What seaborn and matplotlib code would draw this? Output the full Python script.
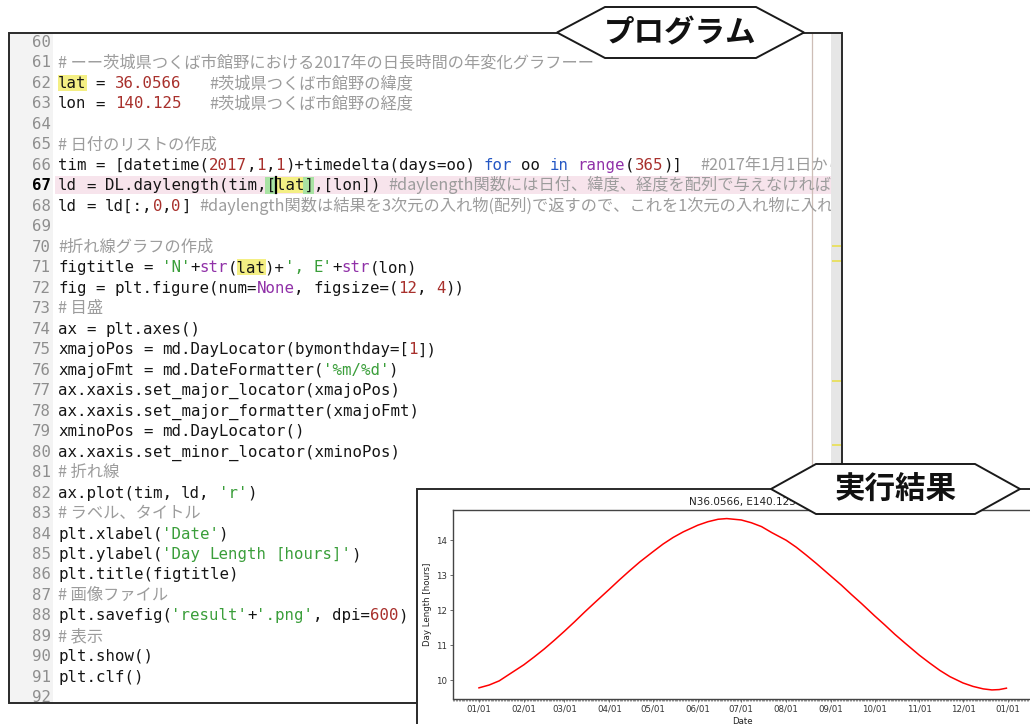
import re
import matplotlib
matplotlib.use("Agg")
import matplotlib.pyplot as plt
import matplotlib.dates as md
from matplotlib.patches import Rectangle, Polygon
import pandas as pd
import seaborn as sns

# 日長時間
dates = ["2017-01-01", "2017-01-08", "2017-01-15", "2017-01-22",
         "2017-02-01", "2017-02-08", "2017-02-15", "2017-02-22",
         "2017-03-01", "2017-03-08", "2017-03-15", "2017-03-22",
         "2017-04-01", "2017-04-08", "2017-04-15", "2017-04-22",
         "2017-05-01", "2017-05-08", "2017-05-15", "2017-05-22",
         "2017-06-01", "2017-06-08", "2017-06-15", "2017-06-21",
         "2017-07-01", "2017-07-08", "2017-07-15", "2017-07-22",
         "2017-08-01", "2017-08-08", "2017-08-15", "2017-08-22",
         "2017-09-01", "2017-09-08", "2017-09-15", "2017-09-22",
         "2017-10-01", "2017-10-08", "2017-10-15", "2017-10-22",
         "2017-11-01", "2017-11-08", "2017-11-15", "2017-11-22",
         "2017-12-01", "2017-12-08", "2017-12-15", "2017-12-21",
         "2017-12-26", "2017-12-31"]
day_length = [9.78, 9.86, 9.98, 10.17,
              10.44, 10.66, 10.89, 11.14,
              11.40, 11.67, 11.95, 12.22,
              12.60, 12.87, 13.13, 13.38,
              13.67, 13.89, 14.08, 14.24,
              14.43, 14.53, 14.60, 14.62,
              14.58, 14.50, 14.39, 14.22,
              14.00, 13.80, 13.57, 13.33,
              12.97, 12.72, 12.45, 12.19,
              11.84, 11.58, 11.31, 11.06,
              10.71, 10.49, 10.28, 10.10,
              9.92, 9.82, 9.75, 9.72,
              9.73, 9.77]

chart_title = "N36.0566, E140.125"
x_label = "Date"
y_label = "Day Length [hours]"

# エディタに表示されているコード (60行目から)
first_no = 60
code_lines = [
    "",
    "# ーー茨城県つくば市館野における2017年の日長時間の年変化グラフーー",
    "lat = 36.0566   #茨城県つくば市館野の緯度",
    "lon = 140.125   #茨城県つくば市館野の経度",
    "",
    "# 日付のリストの作成",
    "tim = [datetime(2017,1,1)+timedelta(days=oo) for oo in range(365)]  #2017年1月1日から365日分の日付",
    "ld = DL.daylength(tim,[lat],[lon]) #daylength関数には日付、緯度、経度を配列で与えなければならない",
    "ld = ld[:,0,0] #daylength関数は結果を3次元の入れ物(配列)で返すので、これを1次元の入れ物に入れ直す",
    "",
    "#折れ線グラフの作成",
    "figtitle = 'N'+str(lat)+', E'+str(lon)",
    "fig = plt.figure(num=None, figsize=(12, 4))",
    "# 目盛",
    "ax = plt.axes()",
    "xmajoPos = md.DayLocator(bymonthday=[1])",
    "xmajoFmt = md.DateFormatter('%m/%d')",
    "ax.xaxis.set_major_locator(xmajoPos)",
    "ax.xaxis.set_major_formatter(xmajoFmt)",
    "xminoPos = md.DayLocator()",
    "ax.xaxis.set_minor_locator(xminoPos)",
    "# 折れ線",
    "ax.plot(tim, ld, 'r')",
    "# ラベル、タイトル",
    "plt.xlabel('Date')",
    "plt.ylabel('Day Length [hours]')",
    "plt.title(figtitle)",
    "# 画像ファイル",
    "plt.savefig('result'+'.png', dpi=600)",
    "# 表示",
    "plt.show()",
    "plt.clf()",
    "",
]
current_line = 67

W, H = 1030, 724
CHAR_W = 9.45
X0 = 58
Y0 = 47.0
DY = 20.48
MONO = "DejaVu Sans Mono"
JP = ["Noto Sans CJK JP", "DejaVu Sans"]

colors = {"id": "#151515", "cm": "#9c9c9c", "st": "#3a9e3a", "nu": "#a8302c",
          "kw": "#2457c4", "bi": "#9031a8"}
token_re = re.compile(r"(?P<cm>#.*$)|(?P<st>'[^']*')|(?P<nu>\b\d+(?:\.\d+)?\b)"
                      r"|(?P<kw>\b(?:for|in)\b)|(?P<bi>\b(?:range|str|None)\b)")

fig = plt.figure(figsize=(W / 100, H / 100), dpi=100)
fig.patch.set_facecolor("white")

bg = fig.add_axes([0, 0, 1, 1])
bg.set_xlim(0, W)
bg.set_ylim(H, 0)
bg.axis("off")

clip = Rectangle((9, 33), 822, 669, transform=bg.transData)


def put(x, y, s, color, **kw):
    t = bg.text(x, y, s, color=color, va="baseline", ha="left", zorder=3,
                clip_on=True, **kw)
    t.set_clip_path(clip)
    return t


def put_code(s, col, y, color):
    for m in re.finditer(r"\S+", s):
        put(X0 + (col + m.start()) * CHAR_W, y, m.group(), color,
            family=MONO, fontsize=11.3)


# エディタ枠など
bg.add_patch(Rectangle((9, 33), 44, 669, fc="#f3f3f3", ec="none", zorder=1))
yc67 = Y0 + (current_line - first_no) * DY - 5
bg.add_patch(Rectangle((55, yc67 - 9), 776, 18, fc="#f7e4ec", ec="none", zorder=1))
bg.plot([812, 812], [33, 702], color="#cdbdb6", lw=0.9, zorder=2)
bg.add_patch(Rectangle((831, 33), 11, 669, fc="#e6e6e6", ec="none", zorder=2))
for ym in [246, 261, 381, 445]:
    bg.add_patch(Rectangle((832, ym - 1), 9, 2.2, fc="#e8e06a", ec="none", zorder=2))
bg.add_patch(Rectangle((8.5, 32.5), 833.5, 670, fc="none", ec="#2a2a2a", lw=1.4, zorder=4))

for i, line in enumerate(code_lines):
    no = first_no + i
    y = Y0 + i * DY
    yc = y - 5
    put(51, y, str(no), "#000000" if no == current_line else "#8e8e8e",
        family=MONO, fontsize=11.3,
        fontweight="bold" if no == current_line else "normal").set_ha("right")
    for m in re.finditer(r"\blat\b", line.split("#")[0]):
        bg.add_patch(Rectangle((X0 + m.start() * CHAR_W - 0.5, yc - 8), 3 * CHAR_W + 1, 16,
                               fc="#f4ef84", ec="none", zorder=2))
    if no == current_line:
        for c in [22, 26]:
            bg.add_patch(Rectangle((X0 + c * CHAR_W - 0.5, yc - 8.5), CHAR_W + 1, 17,
                                   fc="#a9e3a3", ec="none", zorder=2))
        bg.plot([X0 + 23 * CHAR_W + 0.5] * 2, [yc - 8, yc + 8], color="black", lw=1.6, zorder=5)
    pos = 0
    for m in token_re.finditer(line):
        if m.start() > pos:
            put_code(line[pos:m.start()], pos, y, colors["id"])
        kind = m.lastgroup
        if kind == "cm":
            put(X0 + m.start() * CHAR_W, y, m.group(), colors["cm"], family=JP, fontsize=11.7)
        else:
            put_code(m.group(), m.start(), y, colors[kind])
        pos = m.end()
    if pos < len(line):
        put_code(line[pos:], pos, y, colors["id"])

# 実行結果のパネル
bg.add_patch(Rectangle((417, 489), 640, 260, fc="white", ec="#2a2a2a", lw=1.4, zorder=10))

df = pd.DataFrame({"date": pd.to_datetime(dates), "day_length": day_length})
s = 0.624
ax = fig.add_axes([452.6 / W, 1 - 698.5 / H, 580.2 / W, 188.5 / H])
sns.lineplot(data=df, x="date", y="day_length", color="red", linewidth=1.1, ax=ax)
ax.xaxis.set_major_locator(md.DayLocator(bymonthday=[1]))
ax.xaxis.set_major_formatter(md.DateFormatter("%m/%d"))
ax.xaxis.set_minor_locator(md.DayLocator())
ax.tick_params(which="major", length=3.5 * s, width=0.8 * s, pad=3.5 * s,
               labelsize=10 * s, colors="#333333")
ax.tick_params(which="minor", length=2 * s, width=0.6 * s, colors="#333333")
ax.set_title(chart_title, fontsize=12 * s, pad=6 * s, color="#222222")
ax.set_xlabel(x_label, fontsize=10 * s, labelpad=4 * s, color="#222222")
ax.set_ylabel(y_label, fontsize=10 * s, labelpad=4 * s, color="#222222")
for sp in ax.spines.values():
    sp.set_color("#444444")
    sp.set_linewidth(1.0)

# 見出しラベル
top = fig.add_axes([0, 0, 1, 1])
top.set_xlim(0, W)
top.set_ylim(H, 0)
top.axis("off")


def hexa(x0, x1, yc, h, sl, text):
    pts = [(x0, yc), (x0 + sl, yc - h / 2), (x1 - sl, yc - h / 2),
           (x1, yc), (x1 - sl, yc + h / 2), (x0 + sl, yc + h / 2)]
    top.add_patch(Polygon(pts, closed=True, fc="white", ec="#1a1a1a", lw=1.4))
    top.text((x0 + x1) / 2, yc + 1, text, ha="center", va="center", fontsize=22,
             fontweight="bold", family=JP, color="#111111")


hexa(557, 804, 32.5, 51, 48, "プログラム")
hexa(771, 1020, 489, 50, 45, "実行結果")

fig.savefig("out.png", dpi=100)
